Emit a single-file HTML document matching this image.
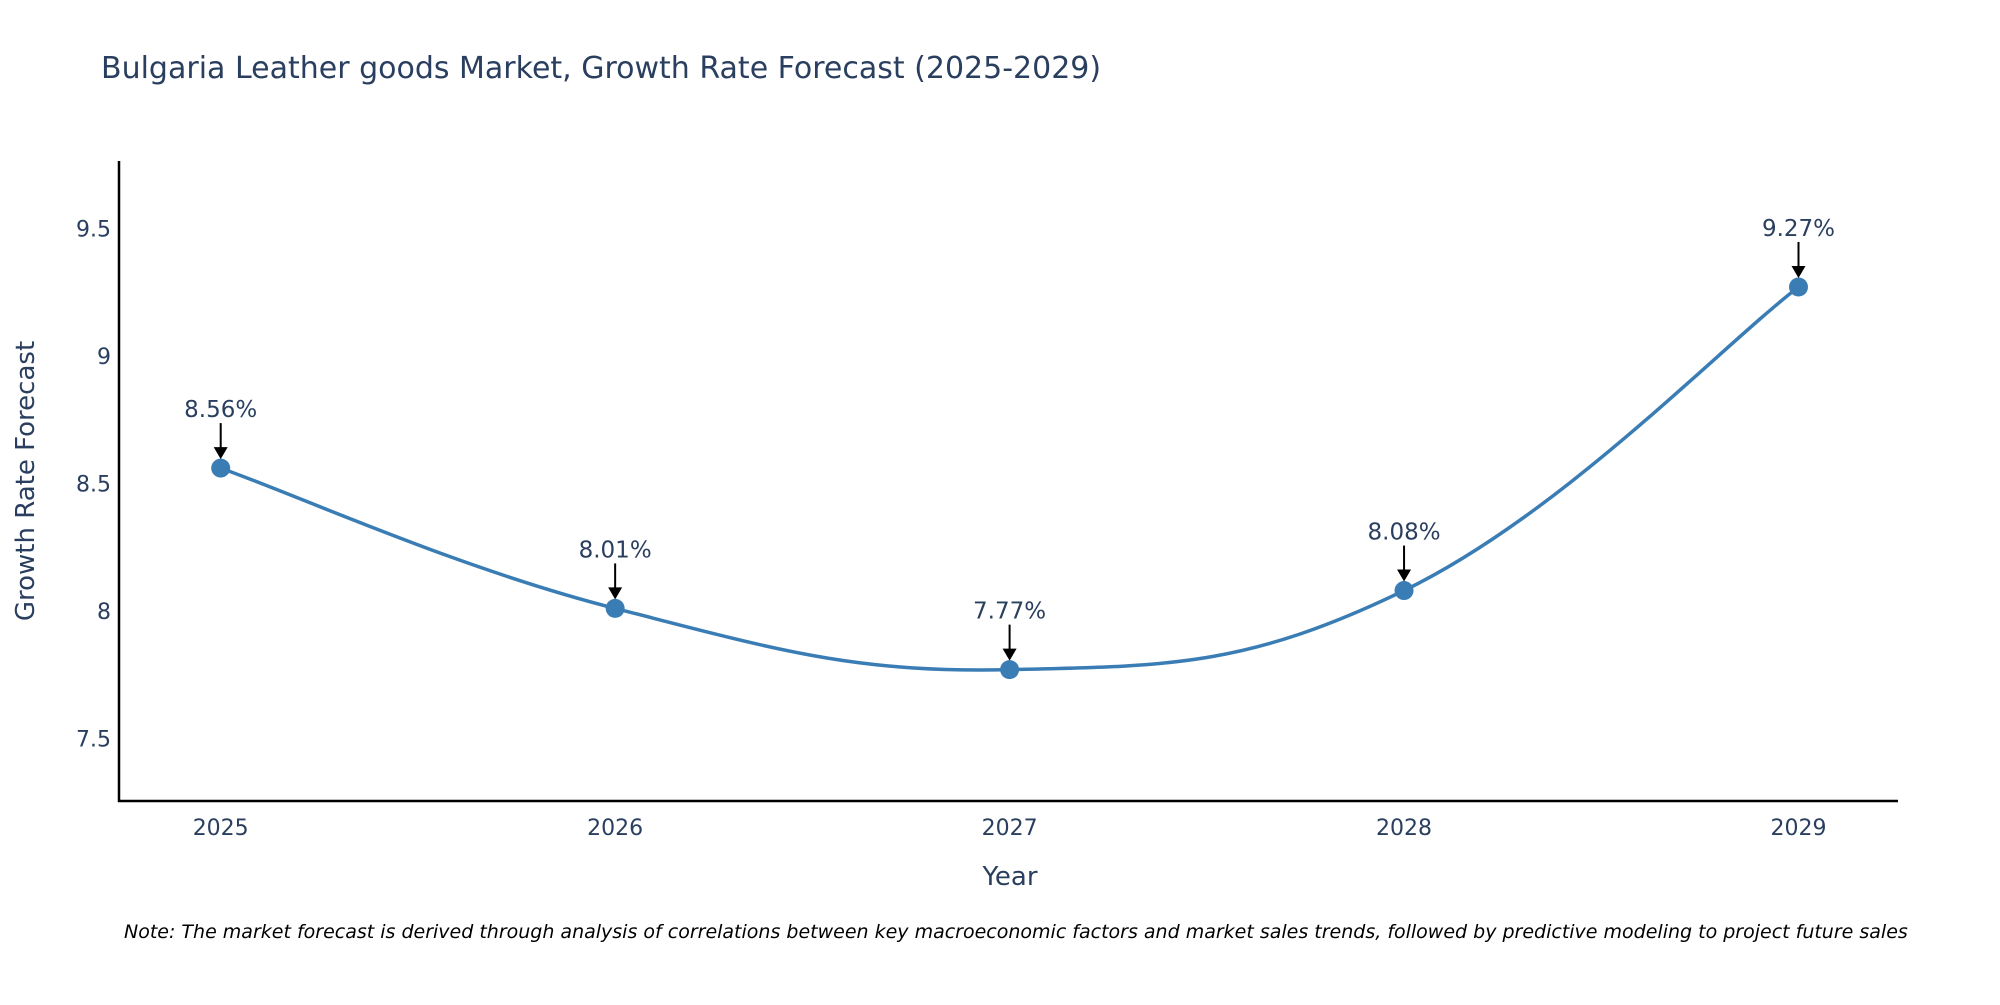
<!DOCTYPE html>
<html><head><meta charset="utf-8"><style>
html,body{margin:0;padding:0;background:#fff;}
svg text{font-family:"DejaVu Sans","Liberation Sans",sans-serif;fill:#2a3f5f;}
</style></head><body>
<svg id="chart" width="2000" height="1000" xmlns="http://www.w3.org/2000/svg">
<text x="101" y="78" font-size="30">Bulgaria Leather goods Market, Growth Rate Forecast (2025-2029)</text>
<g id="yticks"></g><g id="xticks"></g>
<line x1="119" y1="161" x2="119" y2="802" stroke="#000" stroke-width="2.5"/>
<line x1="118" y1="801" x2="1898" y2="801" stroke="#000" stroke-width="2.5"/>
<path id="line" fill="none" stroke="#3a7db5" stroke-width="3.5"/>
<g id="marks"></g>
<text transform="translate(34,481) rotate(-90)" text-anchor="middle" font-size="26">Growth Rate Forecast</text>
<text x="1010" y="885" text-anchor="middle" font-size="26">Year</text>
<text x="124" y="938" font-size="19" font-style="italic" style="fill:#000">Note: The market forecast is derived through analysis of correlations between key macroeconomic factors and market sales trends, followed by predictive modeling to project future sales</text>
</svg>
<script>
const years=[2025,2026,2027,2028,2029];
const values=[8.56,8.01,7.77,8.08,9.27];
const labels=["8.56%","8.01%","7.77%","8.08%","9.27%"];
const yTickVals=[7.5,8,8.5,9,9.5];
const yTickLabels=["7.5","8","8.5","9","9.5"];
const NS="http://www.w3.org/2000/svg";
const X=v=>220.7+(v-2025)*394.45;
const Y=v=>738.5-(v-7.5)*255.1;
function mk(tag,attrs,parent,txt){const e=document.createElementNS(NS,tag);for(const k in attrs)e.setAttribute(k,attrs[k]);if(txt!==undefined)e.textContent=txt;parent.appendChild(e);return e;}
const yt=document.getElementById('yticks');
yTickVals.forEach((v,i)=>{const t=mk('text',{x:111,y:Y(v)+8,'text-anchor':'end','font-size':22},yt,yTickLabels[i]);

});
const xt=document.getElementById('xticks');
years.forEach(v=>{const t=mk('text',{x:X(v),y:835,'text-anchor':'middle','font-size':22},xt,String(v));

});
const pts=years.map((y,i)=>[X(y),Y(values[i])]);
let d=`M${pts[0][0]},${pts[0][1]}`;const s=0.2;
for(let i=0;i<pts.length-1;i++){const p0=pts[Math.max(0,i-1)],p1=pts[i],p2=pts[i+1],p3=pts[Math.min(pts.length-1,i+2)];
const c1=[p1[0]+(p2[0]-p0[0])*s,p1[1]+(p2[1]-p0[1])*s];const c2=[p2[0]-(p3[0]-p1[0])*s,p2[1]-(p3[1]-p1[1])*s];
d+=` C${c1[0]},${c1[1]} ${c2[0]},${c2[1]} ${p2[0]},${p2[1]}`;}
document.getElementById('line').setAttribute('d',d);
const mg=document.getElementById('marks');
pts.forEach((p,i)=>{const c=mk('circle',{cx:p[0],cy:p[1],r:9.5,fill:'#3a7db5'},mg);


const l=mk('line',{x1:p[0],y1:p[1]-45,x2:p[0],y2:p[1]-20,stroke:'#000','stroke-width':2},mg);


const a=mk('polygon',{points:`${p[0]-7},${p[1]-21} ${p[0]+7},${p[1]-21} ${p[0]},${p[1]-9}`,fill:'#000'},mg);


const t=mk('text',{x:p[0],y:p[1]-51,'text-anchor':'middle','font-size':23},mg,labels[i]);

});
</script>
</body></html>
